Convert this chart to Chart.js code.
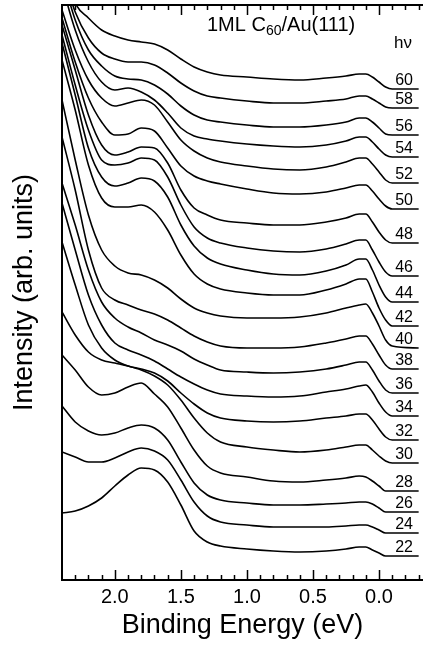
<!DOCTYPE html>
<html>
<head>
<meta charset="utf-8">
<script src="https://cdn.jsdelivr.net/npm/chart.js@4.4.1/dist/chart.umd.min.js"></script>
<style>
  html, body { margin: 0; padding: 0; background: #fff; }
  #wrap { width: 423px; height: 645px; position: relative; }
</style>
</head>
<body>
<div id="wrap"><canvas id="c"></canvas></div>
<script>
// binding energy grid (eV) shared by all spectra
const energy = [2.4, 2.3, 2.2, 2.1, 2.0, 1.9, 1.8, 1.7, 1.6, 1.5, 1.4, 1.3, 1.2, 1.0, 0.8, 0.6, 0.4, 0.25, 0.15, 0.1, 0.05, 0.0, -0.05, -0.1, -0.3];

// photon energies (eV), bottom to top
const photonEnergies = [22, 24, 26, 28, 30, 32, 34, 36, 38, 40, 42, 44, 46, 48, 50, 52, 54, 56, 58, 60];

// vertical offset of each spectrum (arb. units)
const offsets = [24, 47, 68, 89, 117, 140, 164, 187, 211, 232, 254, 278, 304, 337, 371, 397, 423, 445, 472, 491];

// intensity above the background past the Fermi edge (arb. units)
const hv22 = [43, 45, 50, 58, 70, 81, 88, 86, 74, 51, 25, 14, 10, 7, 5, 4, 5, 7, 9, 9, 6, 3, 0, 0, 0];
const hv24 = [81, 76, 71, 71, 75, 81, 85, 82, 73, 53, 31, 17, 11, 8, 6, 6, 6, 7, 8, 8, 6, 3, 0, 0, 0];
const hv26 = [106, 90, 81, 77, 79, 84, 87, 84, 72, 50, 29, 17, 12, 9, 7, 7, 8, 9, 10, 10, 8, 4, 0, 0, 0];
const hv28 = [136, 121, 104, 96, 98, 104, 108, 97, 84, 63, 41, 25, 18, 14, 10, 9, 11, 13, 15, 14, 10, 5, 0, 0, 0];
const hv30 = [151, 128, 111, 103, 100, 97, 93, 87, 78, 63, 45, 30, 21, 16, 13, 11, 13, 16, 18, 18, 13, 7, 2, 0, 0];
const hv32 = [198, 155, 115, 92, 80, 74, 71, 67, 59, 47, 36, 27, 22, 19, 18, 19, 22, 24, 26, 26, 20, 11, 3, 0, 0];
const hv34 = [213, 166, 121, 91, 73, 66, 61, 55, 47, 39, 32, 26, 22, 20, 19, 20, 24, 27, 30, 31, 24, 13, 4, 0, 0];
const hv36 = [210, 168, 123, 91, 75, 66, 60, 53, 48, 42, 34, 28, 23, 21, 20, 21, 24, 28, 31, 31, 23, 12, 3, 0, 0];
const hv38 = [232, 179, 119, 81, 69, 64, 59, 55, 49, 41, 33, 27, 23, 21, 21, 22, 26, 30, 33, 33, 25, 14, 4, 0, 0];
const hv40 = [248, 188, 133, 98, 82, 75, 73, 68, 60, 49, 40, 35, 32, 30, 30, 31, 35, 40, 43, 44, 35, 22, 8, 2, 0];
const hv42 = [266, 216, 161, 128, 119, 119, 121, 114, 96, 71, 52, 42, 37, 33, 31, 31, 36, 42, 47, 47, 34, 18, 6, 0, 0];
const hv44 = [259, 207, 154, 125, 116, 119, 124, 121, 105, 77, 56, 44, 38, 32, 28, 27, 31, 37, 43, 43, 32, 17, 5, 0, 0];
const hv46 = [241, 191, 146, 116, 111, 113, 118, 116, 99, 71, 49, 38, 33, 28, 25, 24, 27, 32, 36, 36, 26, 14, 4, 0, 0];
const hv48 = [218, 173, 128, 98, 88, 91, 96, 95, 80, 53, 35, 28, 23, 20, 18, 18, 21, 25, 29, 29, 21, 11, 3, 0, 0];
const hv50 = [191, 147, 111, 87, 74, 75, 81, 78, 61, 43, 33, 28, 25, 20, 16, 15, 17, 21, 24, 24, 18, 10, 3, 0, 0];
const hv52 = [173, 133, 103, 85, 77, 80, 83, 78, 61, 43, 32, 25, 21, 17, 14, 13, 16, 21, 25, 25, 19, 11, 3, 0, 0];
const hv54 = [172, 127, 95, 75, 67, 69, 65, 57, 44, 29, 21, 18, 16, 13, 11, 10, 12, 16, 20, 20, 15, 8, 2, 0, 0];
const hv56 = [160, 115, 85, 69, 59, 56, 55, 50, 41, 29, 20, 15, 13, 10, 8, 8, 10, 13, 17, 17, 13, 7, 1, 0, 0];
const hv58 = [138, 96, 70, 55, 49, 46, 46, 43, 35, 25, 17, 12, 10, 7, 5, 5, 7, 9, 12, 12, 9, 5, 1, 0, 0];
const hv60 = [129, 86, 71, 59, 53, 49, 47, 45, 39, 30, 22, 17, 14, 12, 10, 9, 11, 13, 15, 15, 12, 7, 2, 0, 0];

const spectra = [hv22, hv24, hv26, hv28, hv30, hv32, hv34, hv36, hv38, hv40,
                 hv42, hv44, hv46, hv48, hv50, hv52, hv54, hv56, hv58, hv60];

// axis ticks
const majorTicks = [2.0, 1.5, 1.0, 0.5, 0.0];
const tickLabels = ['2.0', '1.5', '1.0', '0.5', '0.0'];
const minorTicks = [2.3, 2.2, 2.1, 1.9, 1.8, 1.7, 1.6, 1.4, 1.3, 1.2, 1.1, 0.9, 0.8, 0.7, 0.6, 0.4, 0.3, 0.2, 0.1, -0.1, -0.2, -0.3];

const labelEnergy = -0.19; // where the hv numbers sit
const FONT = '"Liberation Sans", Arial, Helvetica, sans-serif';

const datasets = spectra.map((s, i) => ({
  label: 'hv ' + photonEnergies[i],
  data: energy.map((e, j) => ({ x: e, y: offsets[i] + s[j] })),
  borderColor: '#000',
  borderWidth: 1.6,
  pointRadius: 0,
  fill: false,
  cubicInterpolationMode: 'monotone'
}));

// draws the frame, inward ticks, texts
const framePlugin = {
  id: 'frame',
  afterDraw(chart) {
    const ctx = chart.ctx;
    const a = chart.chartArea;
    const xs = chart.scales.x;
    const ys = chart.scales.y;
    ctx.save();
    ctx.strokeStyle = '#000';
    ctx.lineWidth = 2;
    ctx.beginPath();
    ctx.moveTo(a.right, a.top);
    ctx.lineTo(a.left, a.top);
    ctx.lineTo(a.left, a.bottom);
    ctx.lineTo(a.right, a.bottom);
    ctx.stroke();

    ctx.lineWidth = 1.5;
    const tick = (v, len) => {
      const px = Math.round(xs.getPixelForValue(v)) + 0.5;
      ctx.beginPath();
      ctx.moveTo(px, a.bottom);
      ctx.lineTo(px, a.bottom - len);
      ctx.moveTo(px, a.top);
      ctx.lineTo(px, a.top + len);
      ctx.stroke();
    };
    majorTicks.forEach(v => tick(v, 10));
    minorTicks.forEach(v => tick(v, 5));

    ctx.fillStyle = '#000';
    ctx.textAlign = 'center';
    ctx.textBaseline = 'alphabetic';
    ctx.font = '20px ' + FONT;
    majorTicks.forEach((v, i) => {
      ctx.fillText(tickLabels[i], xs.getPixelForValue(v), 603);
    });

    ctx.font = '27px ' + FONT;
    ctx.fillText('Binding Energy (eV)', (a.left + a.right) / 2, 633);

    ctx.save();
    ctx.translate(32, (a.top + a.bottom) / 2);
    ctx.rotate(-Math.PI / 2);
    ctx.fillText('Intensity (arb. units)', 0, 0);
    ctx.restore();

    // hv labels
    ctx.font = '16px ' + FONT;
    photonEnergies.forEach((hv, i) => {
      ctx.fillText(String(hv), xs.getPixelForValue(labelEnergy), ys.getPixelForValue(offsets[i]) - 4);
    });
    ctx.font = '17px ' + FONT;
    ctx.fillText('h\u03BD', 403, 48);

    // sample title with subscript
    ctx.textAlign = 'left';
    let tx = 207;
    ctx.font = '20px ' + FONT;
    ctx.fillText('1ML C', tx, 31);
    tx += ctx.measureText('1ML C').width;
    ctx.font = '14px ' + FONT;
    ctx.fillText('60', tx, 35);
    tx += ctx.measureText('60').width;
    ctx.font = '20px ' + FONT;
    ctx.fillText('/Au(111)', tx, 31);
    ctx.restore();
  }
};

new Chart(document.getElementById('c'), {
  type: 'line',
  data: { datasets: datasets },
  options: {
    responsive: true,
    maintainAspectRatio: false,
    animation: false,
    layout: { padding: { left: 62, right: 0, top: 5, bottom: 65 } },
    plugins: { legend: { display: false }, tooltip: { enabled: false } },
    scales: {
      x: { type: 'linear', reverse: true, min: -0.333, max: 2.4, display: false },
      y: { type: 'linear', min: 0, max: 575, display: false }
    }
  },
  plugins: [framePlugin]
});
</script>
</body>
</html>
